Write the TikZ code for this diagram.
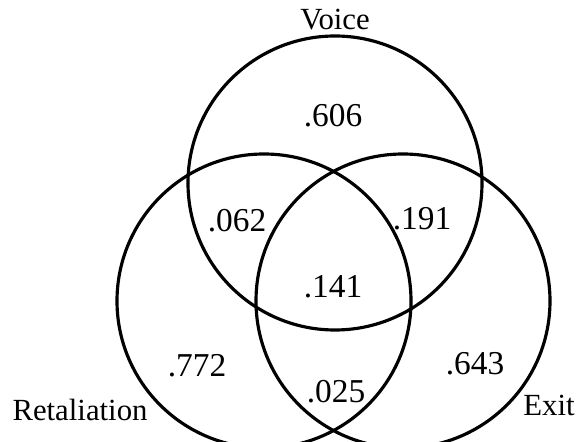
\documentclass[tikz,border=0pt]{standalone}
\usepackage{fontspec}
\setmainfont{Liberation Serif}
\begin{document}
\begin{tikzpicture}[kreis/.style={line width=1.8pt}, wert/.style={font=\fontsize{19}{22}\selectfont, inner sep=0pt}, titel/.style={font=\fontsize{17.5}{21}\selectfont, inner sep=0pt}]
	\useasboundingbox (0,0) rectangle (11.54,8.84);
	% Kreise
	\coordinate (mV) at (6.70,5.18);
	\coordinate (mR) at (5.28,2.82);
	\coordinate (mE) at (8.06,2.82);
	\foreach \m in {mV, mR, mE} {
		\draw [kreis] (\m) circle (2.94);
	}
	% Werte
	\node [wert] (v) at (6.66,6.52) {.606};
	\node [wert] (vr) at (4.74,4.42) {.062};
	\node [wert] (ve) at (8.44,4.46) {.191};
	\node [wert] (vre) at (6.66,3.10) {.141};
	\node [wert] (r) at (3.94,1.52) {.772};
	\node [wert] (re) at (6.72,1.00) {.025};
	\node [wert] (e) at (9.50,1.56) {.643};
	% Namen
	\node [titel] (voice) at (6.70,8.44) {Voice};
	\node [titel] (retaliation) at (1.60,0.64) {Retaliation};
	\node [titel] (exit) at (10.98,0.74) {Exit};
\end{tikzpicture}
\end{document}
